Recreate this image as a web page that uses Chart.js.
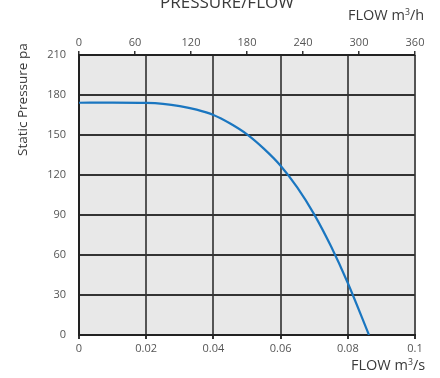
<!DOCTYPE html>
<html><head><meta charset="utf-8">
<script src="https://cdn.jsdelivr.net/npm/chart.js@4"></script>
<style>
html,body{margin:0;padding:0;background:#fff;}
#wrap{position:relative;width:440px;height:378px;overflow:hidden;font-family:"Open Sans",sans-serif;color:#3a3a3a;}
canvas{position:absolute;left:0;top:0;}
.t{position:absolute;white-space:nowrap;}
sup{font-size:0.6em;vertical-align:0.6em;line-height:0;}
</style></head>
<body><div id="wrap">
<canvas id="c" width="440" height="378"></canvas>
<div class="t" style="left:160px;top:-10px;font-size:17px;">PRESSURE/FLOW</div>
<div class="t" style="left:348px;top:5px;font-size:14.5px;">FLOW m<sup>3</sup>/h</div>
<div class="t" style="left:351px;top:355px;font-size:14.5px;">FLOW m<sup>3</sup>/s</div>
<div class="t" style="left:13px;top:156px;font-size:13.5px;transform:rotate(-90deg);transform-origin:0 0;">Static Pressure pa</div>
</div>
<script>
const flowM3s = [0, 0.01, 0.02, 0.025, 0.03, 0.035, 0.04, 0.045, 0.05, 0.055, 0.06, 0.065, 0.07, 0.075, 0.08, 0.0863];
const pressurePa = [174.2, 174.3, 174.1, 173.4, 171.7, 169, 165, 158.6, 150.5, 139.8, 127, 110.5, 90.5, 66.5, 39, 0];
const bottomTicks = [0, 0.02, 0.04, 0.06, 0.08, 0.1];
const topTicks = [0, 60, 120, 180, 240, 300, 360];
const yTicks = [0, 30, 60, 90, 120, 150, 180, 210];

const bgPlugin = {
  id: 'bg',
  beforeDraw(chart) {
    const {ctx, chartArea: a} = chart;
    ctx.save();
    ctx.fillStyle = '#e8e8e8';
    ctx.fillRect(a.left, a.top, a.right - a.left, a.bottom - a.top);
    ctx.restore();
  }
};

new Chart(document.getElementById('c'), {
  type: 'line',
  data: {
    datasets: [{
      data: flowM3s.map((x, i) => ({x, y: pressurePa[i]})),
      borderColor: '#1a76c0',
      borderWidth: 2.2,
      pointRadius: 0,
      cubicInterpolationMode: 'monotone',
      fill: false
    }]
  },
  options: {
    responsive: false,
    animation: false,
    layout: {padding: {right: 25, left: 0, top: 0, bottom: 0}},
    plugins: {legend: {display: false}, tooltip: {enabled: false}},
    scales: {
      x: {
        type: 'linear', position: 'bottom', min: 0, max: 0.1,
        afterBuildTicks: s => { s.ticks = bottomTicks.map(v => ({value: v})); },
        afterFit: s => { s.height = 43; },
        ticks: {color: '#555', font: {family: 'Open Sans', size: 11}, padding: 3,
          callback: v => String(v)},
        grid: {color: '#555', lineWidth: 2, tickLength: 4, tickColor: '#333'},
        border: {display: true, color: '#222', width: 2}
      },
      x2: {
        type: 'linear', position: 'top', min: 0, max: 360,
        afterBuildTicks: s => { s.ticks = topTicks.map(v => ({value: v})); },
        afterFit: s => { s.height = 55; },
        ticks: {color: '#555', font: {family: 'Open Sans', size: 11}, padding: 2},
        grid: {drawOnChartArea: false, tickLength: 4, tickColor: '#333', lineWidth: 1.5},
        border: {display: true, color: '#222', width: 2}
      },
      y: {
        min: 0, max: 210,
        afterBuildTicks: s => { s.ticks = yTicks.map(v => ({value: v})); },
        afterFit: s => { s.width = 79; },
        ticks: {color: '#555', font: {family: 'Open Sans', size: 11}, padding: 13},
        grid: {color: '#333', lineWidth: 2, drawTicks: false},
        border: {display: true, color: '#222', width: 2}
      }
    }
  },
  plugins: [bgPlugin]
});
</script>
</body></html>
